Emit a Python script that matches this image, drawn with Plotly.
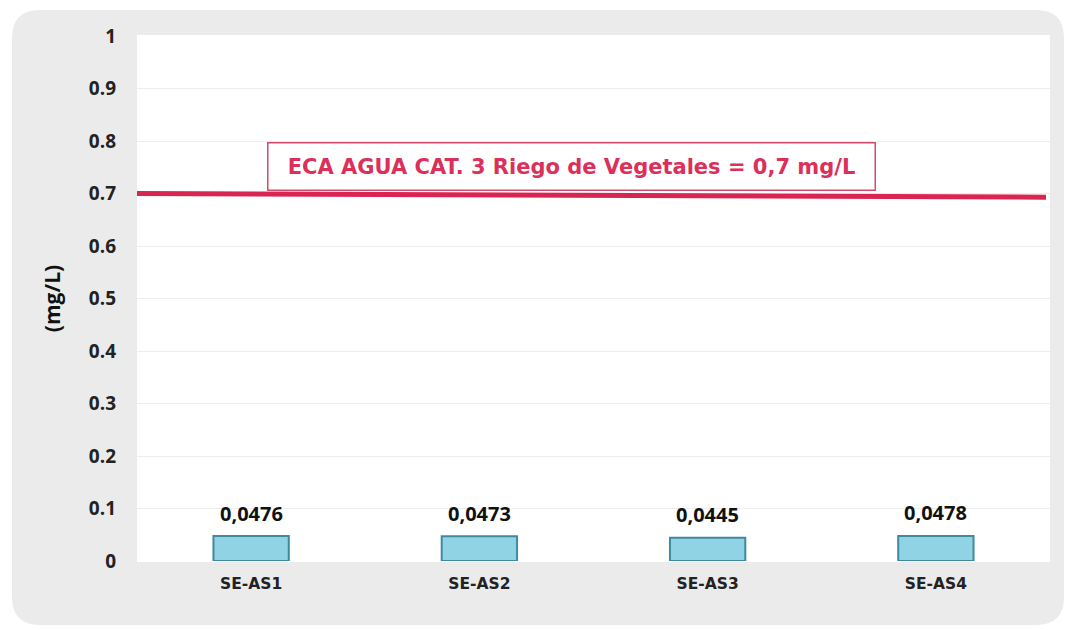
import plotly.graph_objects as go

# ---- data ----
stations = ["SE-AS1", "SE-AS2", "SE-AS3", "SE-AS4"]
values = [0.0476, 0.0473, 0.0445, 0.0478]
eca_limit = 0.7
eca_label = "ECA AGUA CAT. 3 Riego de Vegetales = 0,7 mg/L"
y_ticks = [0, 0.1, 0.2, 0.3, 0.4, 0.5, 0.6, 0.7, 0.8, 0.9, 1]
y_tick_labels = ["0", "0.1", "0.2", "0.3", "0.4", "0.5", "0.6", "0.7", "0.8", "0.9", "1"]
y_title = "(mg/L)"

OFF = 8  # default page body margin
W, H = 1072 - OFF, 630 - OFF
L, R, T, B = 137 - OFF, 22, 36 - OFF, 69
pw, ph = W - L - R, H - T - B


def px(x):
    return (x - OFF - L) / pw


def py(y):
    return (H - B - (y - OFF)) / ph


def rounded_rect(x0, y0, x1, y1, r):
    return (f"M {px(x0 + r)} {py(y0)} L {px(x1 - r)} {py(y0)} "
            f"Q {px(x1)} {py(y0)} {px(x1)} {py(y0 + r)} "
            f"L {px(x1)} {py(y1 - r)} Q {px(x1)} {py(y1)} {px(x1 - r)} {py(y1)} "
            f"L {px(x0 + r)} {py(y1)} Q {px(x0)} {py(y1)} {px(x0)} {py(y1 - r)} "
            f"L {px(x0)} {py(y0 + r)} Q {px(x0)} {py(y0)} {px(x0 + r)} {py(y0)} Z")


fig = go.Figure()
fig.add_trace(go.Bar(
    x=stations, y=values, width=0.33,
    marker=dict(color="#8fd3e4", line=dict(color="#3f8aa0", width=2)),
    hoverinfo="skip",
))

for s, v in zip(stations, values):
    fig.add_annotation(x=s, y=v, text=f"{v:.4f}".replace(".", ","), showarrow=False,
                       yshift=23, font=dict(family="Open Sans", size=20, color="#111111", weight="bold"))

shapes = [
    dict(type="path", xref="paper", yref="paper", layer="below",
         path=rounded_rect(12, 10, 1064, 625, 28), fillcolor="#ebebeb", line=dict(width=0)),
    dict(type="rect", xref="paper", yref="paper", layer="below",
         x0=0, x1=px(1050), y0=py(562), y1=py(35), fillcolor="#ffffff", line=dict(width=0)),
    dict(type="line", xref="paper", yref="y", x0=0, x1=px(1046),
         y0=eca_limit, y1=eca_limit - 0.007, line=dict(color="#d92552", width=5)),
]

fig.add_annotation(xref="paper", yref="y", x=px(571), y=0.752, text=eca_label, showarrow=False,
                   font=dict(family="DejaVu Sans", size=21, color="#dc2f5a", weight="bold"),
                   bgcolor="#ffffff", bordercolor="#d24a6c", borderwidth=1.5, borderpad=4,
                   width=598, height=38)

fig.update_layout(
    width=W, height=H,
    margin=dict(l=L, r=R, t=T, b=B),
    paper_bgcolor="#ffffff", plot_bgcolor="rgba(0,0,0,0)",
    shapes=shapes, showlegend=False,
    font=dict(family="Open Sans", color="#222222"),
)
fig.update_yaxes(range=[0, 1], tickvals=y_ticks, ticktext=y_tick_labels,
                 tickfont=dict(family="Open Sans", size=19, color="#222222", weight="bold"),
                 showgrid=True, gridcolor="#ededed", gridwidth=1, zeroline=False,
                 showline=False, ticks="", ticklabelstandoff=20,
                 title=dict(text=y_title, standoff=22,
                            font=dict(family="Open Sans", size=21, color="#111111", weight="bold")))
fig.update_xaxes(showgrid=False, zeroline=False, showline=False, ticks="",
                 tickfont=dict(family="DejaVu Sans", size=15.5, color="#222222", weight="bold"),
                 ticklabelstandoff=11)

fig.write_html("out.html")
